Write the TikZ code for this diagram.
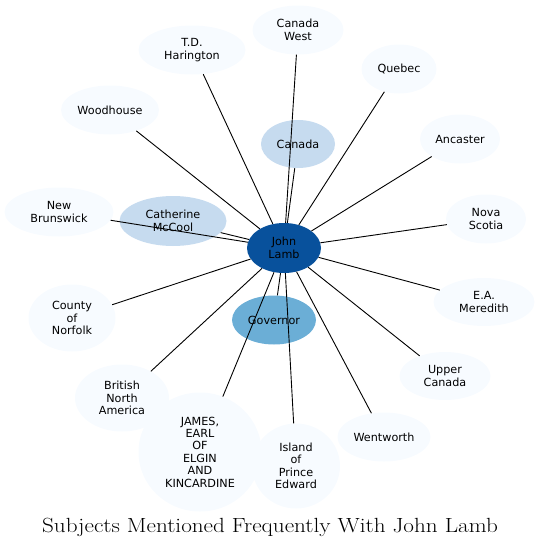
\documentclass[tikz,border=0pt]{standalone}
\usepackage{fontspec}
\setsansfont{DejaVu Sans}
\usetikzlibrary{shapes.geometric}
\definecolor{hubfill}{HTML}{08519C}
\definecolor{midfill}{HTML}{6BAED6}
\definecolor{palefill}{HTML}{C6DBEF}
\definecolor{faintfill}{HTML}{F7FBFF}
\tikzset{
  subj/.style={ellipse, fill=faintfill, inner sep=0pt, align=center, font=\sffamily\fontsize{11.2}{12.4}\selectfont},
  subjpale/.style={subj, fill=palefill},
  subjmid/.style={subj, fill=midfill},
  hub/.style={subj, fill=hubfill},
  sz/.style 2 args={minimum width=#1pt, minimum height=#2pt},
  link/.style={draw=black, line width=0.9pt},
  ttl/.style={font=\fontsize{20.5}{24}\selectfont, anchor=base, inner sep=0pt, xscale=1.13, transform shape},
}
\begin{document}
\begin{tikzpicture}[x=1pt,y=-1pt]
  \useasboundingbox (0,0) rectangle (540,547);
  \node[hub, sz={74}{50}] (lamb) at (284,248) {John\\Lamb};
  \node[subjpale, sz={74}{48}] (canada) at (298,144) {Canada};
  \node[subjpale, sz={107}{50}] (mccool) at (173,221) {Catherine\\McCool};
  \node[subjmid, sz={84}{49}] (governor) at (274,320) {Governor};
  \node[subj, sz={91}{49}] (cwest) at (298,30) {Canada\\West};
  \node[subj, sz={107}{49}] (harington) at (192,50) {T.D.\\Harington};
  \node[subj, sz={75}{49}] (quebec) at (399,69) {Quebec};
  \node[subj, sz={98}{49}] (woodhouse) at (110,110) {Woodhouse};
  \node[subj, sz={80}{49}] (ancaster) at (460,139) {Ancaster};
  \node[subj, sz={109}{49}] (brunswick) at (59,212) {New\\Brunswick};
  \node[subj, sz={80}{49}] (scotia) at (486,219) {Nova\\Scotia};
  \node[subj, sz={101}{48}] (meredith) at (484,302) {E.A.\\Meredith};
  \node[subj, sz={87}{67}] (norfolk) at (72,318) {County\\of\\Norfolk};
  \node[subj, sz={91}{48}] (ucanada) at (445,376) {Upper\\Canada};
  \node[subj, sz={94}{67}] (bna) at (122,398) {British\\North\\America};
  \node[subj, sz={93}{49}] (wentworth) at (384,437) {Wentworth};
  \node[subj, sz={123}{119}] (elgin) at (200,452) {JAMES,\\EARL\\OF\\ELGIN\\AND\\KINCARDINE};
  \node[subj, sz={88}{85}] (pei) at (296,466) {Island\\of\\Prince\\Edward};
  % links from the hub
  \foreach \n in {canada,mccool,governor,cwest,harington,quebec,woodhouse,ancaster,brunswick,scotia,meredith,norfolk,ucanada,bna,wentworth,elgin,pei}
    \draw[link] (lamb) -- (\n);
  \node[ttl] (title) at (270,532) {Subjects Mentioned Frequently With John Lamb};
\end{tikzpicture}
\end{document}
